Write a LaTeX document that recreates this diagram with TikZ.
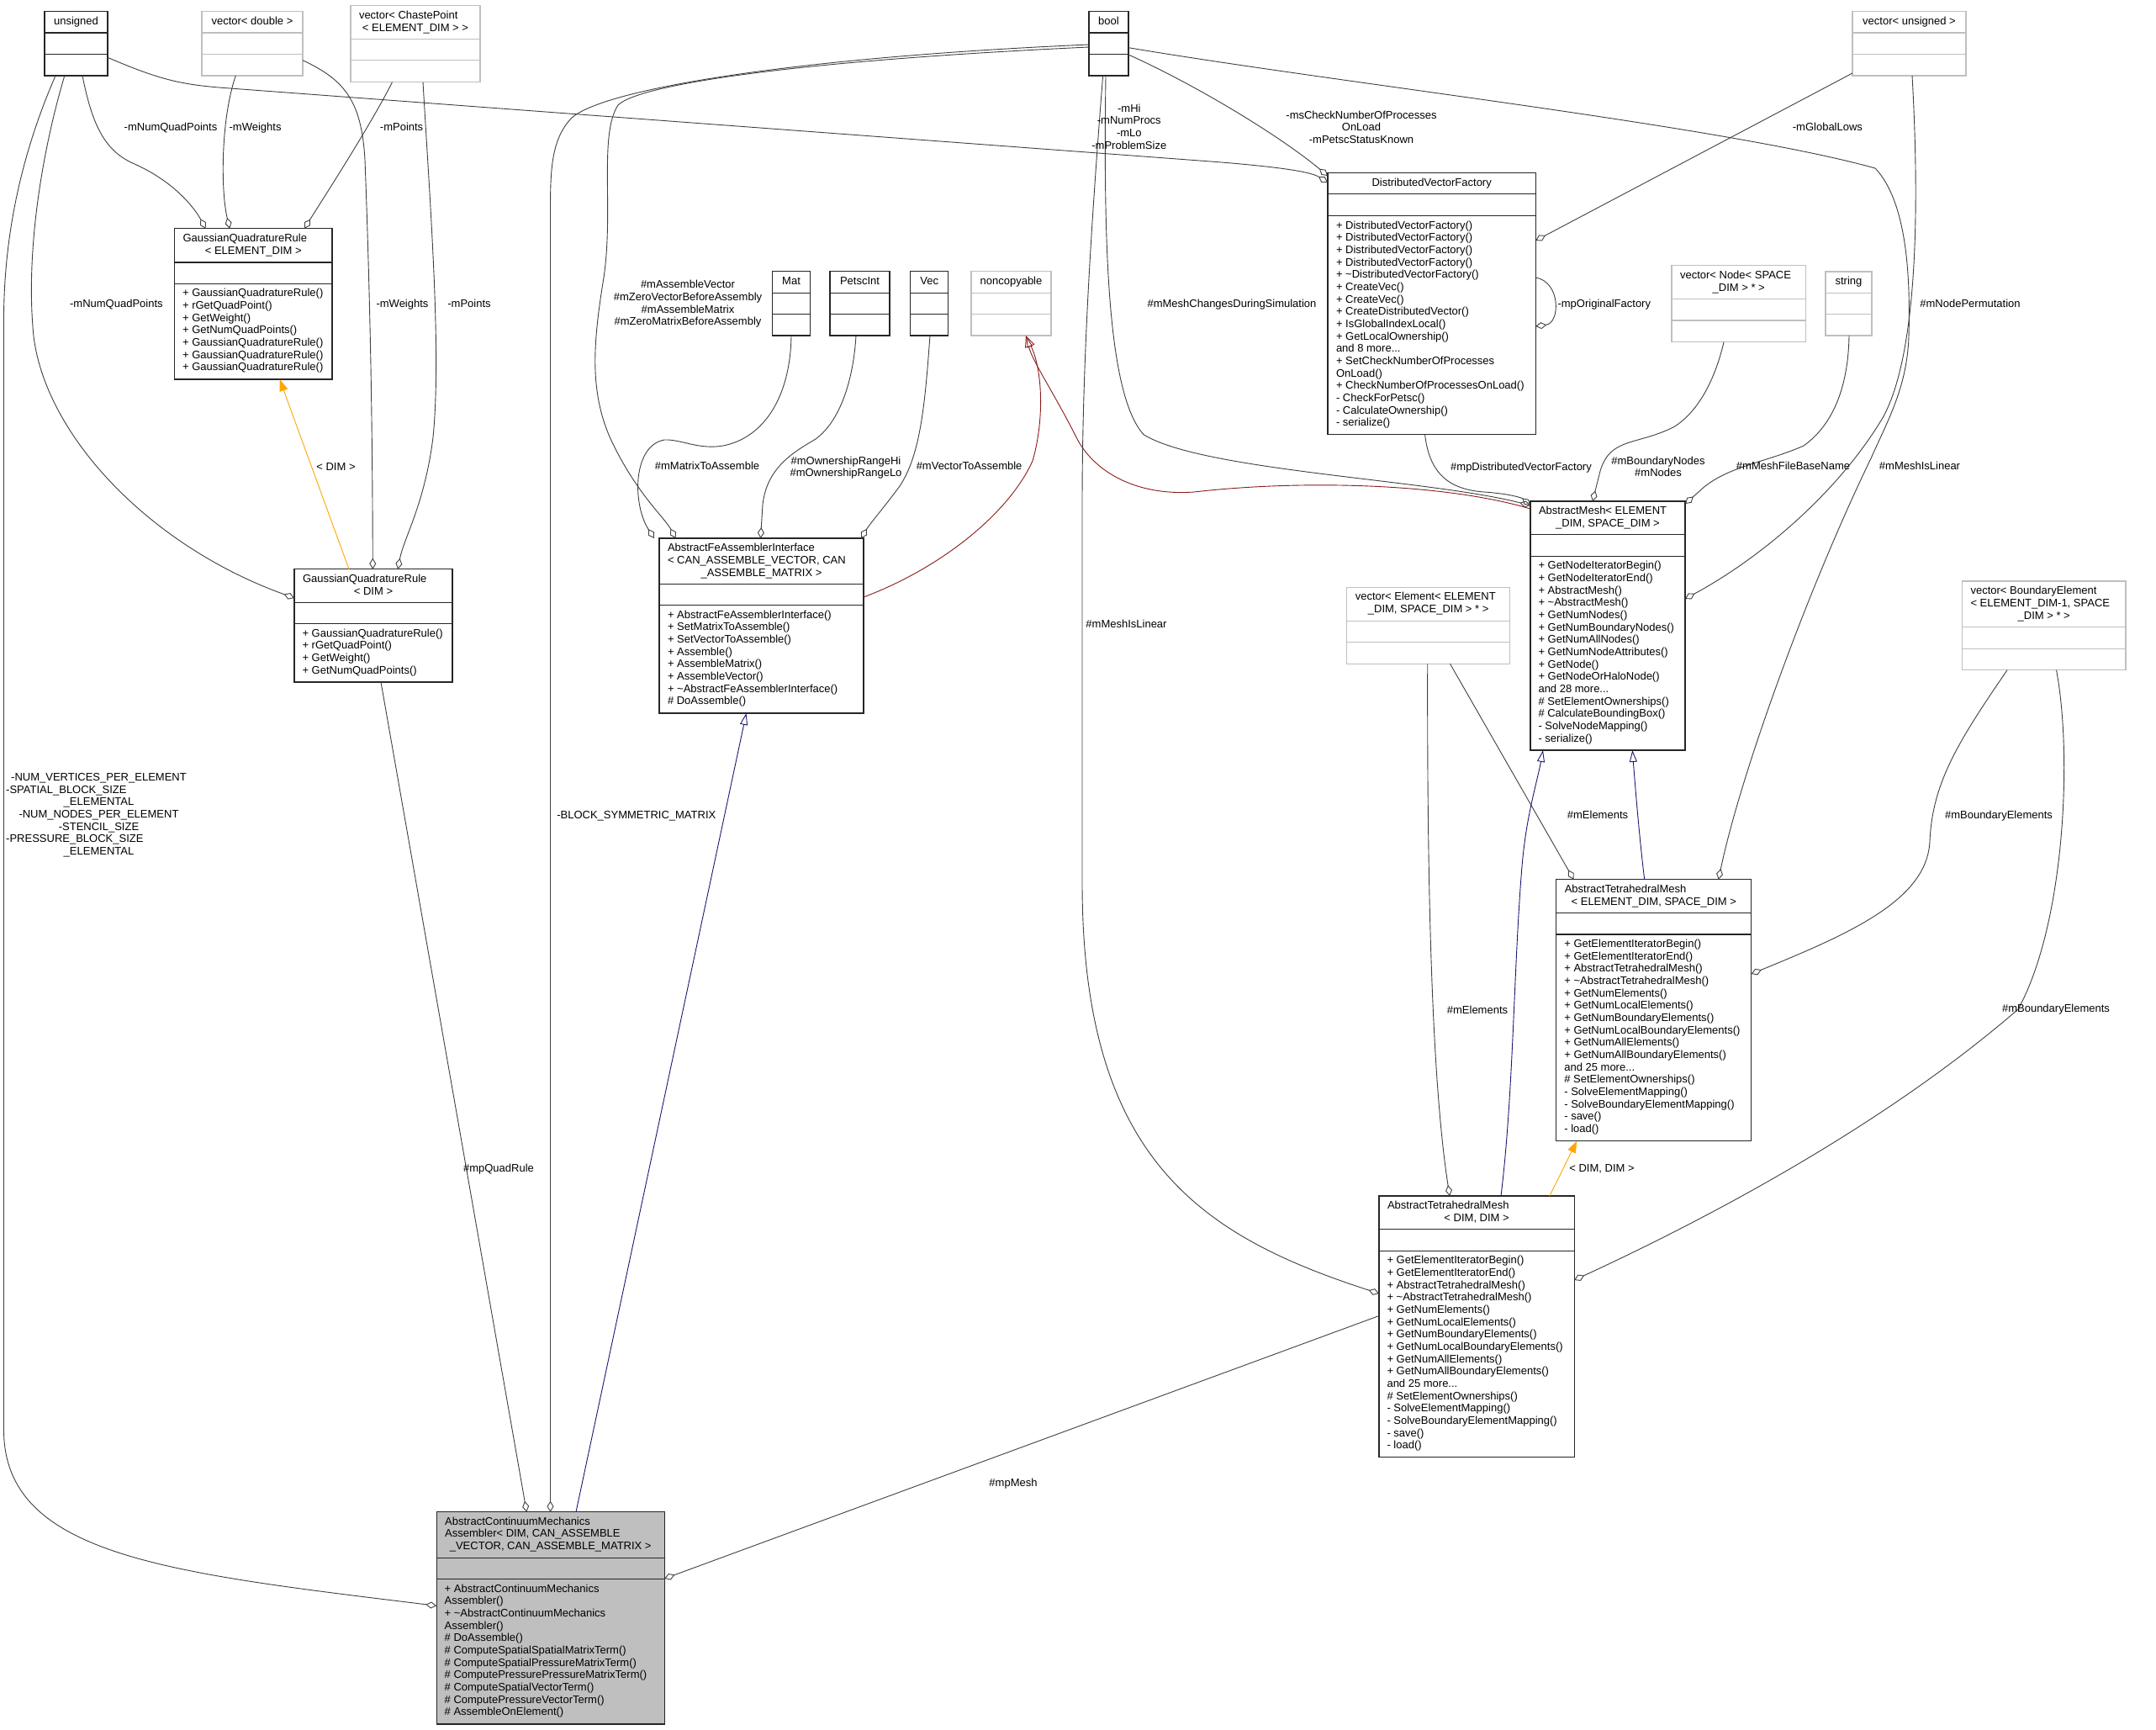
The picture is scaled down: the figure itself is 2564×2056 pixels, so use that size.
\documentclass[tikz,border=0pt]{standalone}
\usepackage{fontspec}
\setmainfont{Liberation Sans}
\usetikzlibrary{arrows.meta}
\definecolor{boxc}{HTML}{262626}
\definecolor{lgray}{HTML}{BFBFBF}
\definecolor{edgec}{HTML}{404040}
\definecolor{midnight}{HTML}{191970}
\definecolor{fire}{HTML}{8B1A1A}
\definecolor{orng}{HTML}{FFA500}
\newcommand{\mlines}[1]{\begin{tabular}[t]{@{}l@{}}#1\end{tabular}}
\newcommand{\clines}[1]{\begin{tabular}[t]{@{}c@{}}#1\end{tabular}}
\newcommand{\cdiv}[3]{\draw[#1] (#2.west |- 0,#3) -- (#2.east |- 0,#3);}
\tikzset{
  box/.style={draw=boxc, line width=1.2pt, fill=white, inner sep=0pt, outer sep=0pt, anchor=north west},
  gbox/.style={box, draw=lgray},
  dl/.style={draw=boxc, line width=1.2pt},
  gdl/.style={draw=lgray, line width=1.2pt},
  txt/.style={inner sep=0pt, outer sep=0pt, font=\fontsize{13}{14.67}\selectfont, text=black},
  agg/.style={draw=edgec, line width=0.9pt, -{Diamond[open, length=13pt, width=8pt]}},
  inh/.style={draw=midnight, line width=0.9pt, -{Triangle[open, length=14pt, width=9pt]}},
  pinh/.style={draw=fire, line width=0.9pt, -{Triangle[open, length=14pt, width=9pt]}},
  tmpl/.style={draw=orng, line width=0.9pt, -{Triangle[length=14pt, width=10pt]}}
}
\begin{document}
\begin{tikzpicture}[x=1pt,y=-1pt]
\fill[white] (0,0) rectangle (2564,2056);
\useasboundingbox (0,0) rectangle (2564,2056);

% ---------------- boxes ----------------
\node[box, minimum width=75pt, minimum height=76.3pt] (uns) at (53,13.7) {};
\cdiv{dl}{uns}{39}\cdiv{dl}{uns}{64.3}
\node[txt, anchor=base] (uns-t) at (uns.north |- 0,29.3) {unsigned};

\node[gbox, minimum width=120pt, minimum height=76.3pt] (vdbl) at (240,13.7) {};
\cdiv{gdl}{vdbl}{39}\cdiv{gdl}{vdbl}{64.3}
\node[txt, anchor=base] (vdbl-t) at (vdbl.north |- 0,29.3) {vector< double >};

\node[gbox, minimum width=154pt, minimum height=91pt] (cpt) at (417,6.7) {};
\cdiv{gdl}{cpt}{46.7}\cdiv{gdl}{cpt}{71.7}
\node[txt, anchor=base west] (cpt-t) at (427,22.3) {vector< ChastePoint};
\node[txt, anchor=base] (cpt-t2) at (cpt.north |- 0,37) {< ELEMENT\_DIM > >};

\node[box, minimum width=187.4pt, minimum height=179.3pt] (gqre) at (207.6,271.7) {};
\cdiv{dl}{gqre}{312}\cdiv{dl}{gqre}{337.3}
\node[txt, anchor=base west] (gqre-t) at (217.6,287.3) {GaussianQuadratureRule};
\node[txt, anchor=base] (gqre-t2) at (gqre.north |- 0,302) {< ELEMENT\_DIM >};
\node[txt, anchor=base west] (gqre-m) at (217.1,352.8) {\mlines{+ GaussianQuadratureRule()\\+ rGetQuadPoint()\\+ GetWeight()\\+ GetNumQuadPoints()\\+ GaussianQuadratureRule()\\+ GaussianQuadratureRule()\\+ GaussianQuadratureRule()}};

\node[box, minimum width=188pt, minimum height=134.3pt] (gqrd) at (350,676.7) {};
\cdiv{dl}{gqrd}{716.7}\cdiv{dl}{gqrd}{741.7}
\node[txt, anchor=base west] (gqrd-t) at (360,692.3) {GaussianQuadratureRule};
\node[txt, anchor=base] (gqrd-t2) at (gqrd.north |- 0,707) {< DIM >};
\node[txt, anchor=base west] (gqrd-m) at (359.5,757.2) {\mlines{+ GaussianQuadratureRule()\\+ rGetQuadPoint()\\+ GetWeight()\\+ GetNumQuadPoints()}};

\node[box, minimum width=47pt, minimum height=76.3pt] (boolc) at (1295,13.7) {};
\cdiv{dl}{boolc}{39}\cdiv{dl}{boolc}{64.3}
\node[txt, anchor=base] (boolc-t) at (boolc.north |- 0,29.3) {bool};

\node[box, minimum width=44.7pt, minimum height=76.3pt] (mat) at (918.7,322.7) {};
\cdiv{dl}{mat}{348.3}\cdiv{dl}{mat}{373.7}
\node[txt, anchor=base] (mat-t) at (mat.north |- 0,338.3) {Mat};

\node[box, minimum width=71pt, minimum height=76.3pt] (pint) at (987,322.7) {};
\cdiv{dl}{pint}{348.3}\cdiv{dl}{pint}{373.7}
\node[txt, anchor=base] (pint-t) at (pint.north |- 0,338.3) {PetscInt};

\node[box, minimum width=45.1pt, minimum height=76.3pt] (vec) at (1082.6,322.7) {};
\cdiv{dl}{vec}{348.3}\cdiv{dl}{vec}{373.7}
\node[txt, anchor=base] (vec-t) at (vec.north |- 0,338.3) {Vec};

\node[gbox, minimum width=95pt, minimum height=76.3pt] (noncp) at (1155,322.7) {};
\cdiv{gdl}{noncp}{348.3}\cdiv{gdl}{noncp}{373.7}
\node[txt, anchor=base] (noncp-t) at (noncp.north |- 0,338.3) {noncopyable};

\node[box, minimum width=243pt, minimum height=208pt] (afai) at (784,640) {};
\cdiv{dl}{afai}{694.3}\cdiv{dl}{afai}{719.7}
\node[txt, anchor=base west] (afai-t) at (794,655.6) {\mlines{AbstractFeAssemblerInterface\\< CAN\_ASSEMBLE\_VECTOR, CAN}};
\node[txt, anchor=base] (afai-t2) at (afai.north |- 0,685) {\_ASSEMBLE\_MATRIX >};
\node[txt, anchor=base west] (afai-m) at (794,735.2) {\mlines{+ AbstractFeAssemblerInterface()\\+ SetMatrixToAssemble()\\+ SetVectorToAssemble()\\+ Assemble()\\+ AssembleMatrix()\\+ AssembleVector()\\+ \textasciitilde AbstractFeAssemblerInterface()\\\# DoAssemble()}};

\node[box, minimum width=247.3pt, minimum height=311pt] (dvf) at (1579,205.7) {};
\cdiv{dl}{dvf}{230.7}\cdiv{dl}{dvf}{256.7}
\node[txt, anchor=base] (dvf-t) at (dvf.north |- 0,221.3) {DistributedVectorFactory};
\node[txt, anchor=base west] (dvf-m) at (1589,272.2) {\mlines{+ DistributedVectorFactory()\\+ DistributedVectorFactory()\\+ DistributedVectorFactory()\\+ DistributedVectorFactory()\\+ \textasciitilde DistributedVectorFactory()\\+ CreateVec()\\+ CreateVec()\\+ CreateDistributedVector()\\+ IsGlobalIndexLocal()\\+ GetLocalOwnership()\\and 8 more...\\+ SetCheckNumberOfProcesses\\OnLoad()\\+ CheckNumberOfProcessesOnLoad()\\- CheckForPetsc()\\- CalculateOwnership()\\- serialize()}};

\node[gbox, minimum width=159.5pt, minimum height=91pt] (vnode) at (1988,315.7) {};
\cdiv{gdl}{vnode}{355.7}\cdiv{gdl}{vnode}{381}
\node[txt, anchor=base west] (vnode-t) at (1998,331.3) {vector< Node< SPACE};
\node[txt, anchor=base] (vnode-t2) at (vnode.north |- 0,346) {\_DIM > * >};

\node[gbox, minimum width=55pt, minimum height=76pt] (str) at (2171,323) {};
\cdiv{gdl}{str}{348.3}\cdiv{gdl}{str}{373.7}
\node[txt, anchor=base] (str-t) at (str.north |- 0,338.6) {string};

\node[gbox, minimum width=135pt, minimum height=76.3pt] (vuns) at (2203,13.7) {};
\cdiv{gdl}{vuns}{39}\cdiv{gdl}{vuns}{64.3}
\node[txt, anchor=base] (vuns-t) at (vuns.north |- 0,29.3) {vector< unsigned >};

\node[box, minimum width=184pt, minimum height=296pt] (amesh) at (1820,596) {};
\cdiv{dl}{amesh}{635.7}\cdiv{dl}{amesh}{661.3}
\node[txt, anchor=base west] (amesh-t) at (1830,611.6) {AbstractMesh< ELEMENT};
\node[txt, anchor=base] (amesh-t2) at (amesh.north |- 0,626.3) {\_DIM, SPACE\_DIM >};
\node[txt, anchor=base west] (amesh-m) at (1829.5,676.8) {\mlines{+ GetNodeIteratorBegin()\\+ GetNodeIteratorEnd()\\+ AbstractMesh()\\+ \textasciitilde AbstractMesh()\\+ GetNumNodes()\\+ GetNumBoundaryNodes()\\+ GetNumAllNodes()\\+ GetNumNodeAttributes()\\+ GetNode()\\+ GetNodeOrHaloNode()\\and 28 more...\\\# SetElementOwnerships()\\\# CalculateBoundingBox()\\- SolveNodeMapping()\\- serialize()}};

\node[gbox, minimum width=193.7pt, minimum height=91pt] (velem) at (1601.8,698.3) {};
\cdiv{gdl}{velem}{738.3}\cdiv{gdl}{velem}{763.7}
\node[txt, anchor=base west] (velem-t) at (1611.8,713.9) {vector< Element< ELEMENT};
\node[txt, anchor=base] (velem-t2) at (velem.north |- 0,728.6) {\_DIM, SPACE\_DIM > * >};

\node[gbox, minimum width=194.5pt, minimum height=105.7pt] (vbel) at (2333.5,691) {};
\cdiv{gdl}{vbel}{745.7}\cdiv{gdl}{vbel}{771.3}
\node[txt, anchor=base west] (vbel-t) at (2343.5,706.6) {\mlines{vector< BoundaryElement\\< ELEMENT\_DIM-1, SPACE}};
\node[txt, anchor=base] (vbel-t2) at (vbel.north |- 0,736) {\_DIM > * >};

\node[box, minimum width=231.9pt, minimum height=311pt] (atmes) at (1850.8,1045.7) {};
\cdiv{dl}{atmes}{1085.7}\cdiv{dl}{atmes}{1111}
\node[txt, anchor=base west] (atmes-t) at (1860.8,1061.3) {AbstractTetrahedralMesh};
\node[txt, anchor=base] (atmes-t2) at (atmes.north |- 0,1076) {< ELEMENT\_DIM, SPACE\_DIM >};
\node[txt, anchor=base west] (atmes-m) at (1860.3,1126.5) {\mlines{+ GetElementIteratorBegin()\\+ GetElementIteratorEnd()\\+ AbstractTetrahedralMesh()\\+ \textasciitilde AbstractTetrahedralMesh()\\+ GetNumElements()\\+ GetNumLocalElements()\\+ GetNumBoundaryElements()\\+ GetNumLocalBoundaryElements()\\+ GetNumAllElements()\\+ GetNumAllBoundaryElements()\\and 25 more...\\\# SetElementOwnerships()\\- SolveElementMapping()\\- SolveBoundaryElementMapping()\\- save()\\- load()}};

\node[box, minimum width=232.2pt, minimum height=310.3pt] (atmdd) at (1640,1422) {};
\cdiv{dl}{atmdd}{1461.7}\cdiv{dl}{atmdd}{1487.3}
\node[txt, anchor=base west] (atmdd-t) at (1650,1437.6) {AbstractTetrahedralMesh};
\node[txt, anchor=base] (atmdd-t2) at (atmdd.north |- 0,1452.3) {< DIM, DIM >};
\node[txt, anchor=base west] (atmdd-m) at (1649.5,1502.8) {\mlines{+ GetElementIteratorBegin()\\+ GetElementIteratorEnd()\\+ AbstractTetrahedralMesh()\\+ \textasciitilde AbstractTetrahedralMesh()\\+ GetNumElements()\\+ GetNumLocalElements()\\+ GetNumBoundaryElements()\\+ GetNumLocalBoundaryElements()\\+ GetNumAllElements()\\+ GetNumAllBoundaryElements()\\and 25 more...\\\# SetElementOwnerships()\\- SolveElementMapping()\\- SolveBoundaryElementMapping()\\- save()\\- load()}};

\node[box, fill=lgray, minimum width=271pt, minimum height=252.3pt] (acma) at (519.2,1797.7) {};
\cdiv{dl}{acma}{1852.3}\cdiv{dl}{acma}{1877.7}
\node[txt, anchor=base west] (acma-t) at (529.2,1813.3) {\mlines{AbstractContinuumMechanics\\Assembler< DIM, CAN\_ASSEMBLE}};
\node[txt, anchor=base] (acma-t2) at (acma.north |- 0,1842.7) {\_VECTOR, CAN\_ASSEMBLE\_MATRIX >};
\node[txt, anchor=base west] (acma-m) at (528.7,1893.2) {\mlines{+ AbstractContinuumMechanics\\Assembler()\\+ \textasciitilde AbstractContinuumMechanics\\Assembler()\\\# DoAssemble()\\\# ComputeSpatialSpatialMatrixTerm()\\\# ComputeSpatialPressureMatrixTerm()\\\# ComputePressurePressureMatrixTerm()\\\# ComputeSpatialVectorTerm()\\\# ComputePressureVectorTerm()\\\# AssembleOnElement()}};

% ---------------- connectors ----------------
\draw[agg] (uns.south -| 98,0) .. controls (110,150) and (125,180) .. (160,195) .. controls (205,215) and (230,245) .. (gqre.north -| 244.6,0);
\draw[agg] (vdbl.south -| 280.3,0) .. controls (263,140) and (262,225) .. (gqre.north -| 273.2,0);
\draw[agg] (cpt.south -| 466.5,0) .. controls (440,150) and (385,235) .. (gqre.north -| 362,0);
\draw[agg] (uns.south -| 76.8,0) .. controls (50,180) and (30,300) .. (40,400) .. controls (55,520) and (180,650) .. (gqrd.west |- 0,711);
\draw[agg] (vdbl.east |- 0,71.7) .. controls (410,95) and (430,120) .. (434,190) .. controls (442,400) and (443,560) .. (gqrd.north -| 443.3,0);
\draw[agg] (cpt.south -| 503,0) .. controls (512,250) and (525,420) .. (515,520) .. controls (505,600) and (480,640) .. (gqrd.north -| 473.2,0);
\draw[tmpl] (gqrd.north -| 415,0) -- (gqre.south -| 332.6,0);
\draw[agg] (uns.south -| 66,0) .. controls (40,150) and (4.5,250) .. (4.5,380) -- (4.5,1700) .. controls (4.5,1850) and (200,1870) .. (acma.west |- 0,1909.3);
\draw[agg] (uns.east |- 0,68.3) .. controls (190,95) and (215,100) .. (260,104) -- (1440,192) .. controls (1530,199) and (1560,205) .. (dvf.west |- 0,217);
\draw[agg] (boolc.east |- 0,65) .. controls (1420,100) and (1520,160) .. (dvf.west |- 0,209);
\draw[agg] (vuns.west |- 0,87) -- (dvf.east |- 0,286);
\draw[agg] (dvf.east |- 0,330) .. controls (1856,335) and (1856,384) .. (dvf.east |- 0,388);
\draw[agg] (dvf.south -| 1694.6,0) .. controls (1700,565) and (1725,582) .. (1765,585) .. controls (1795,587) and (1810,592) .. (amesh.west |- 0,601);
\draw[agg] (boolc.south -| 1315,0) .. controls (1312,300) and (1318,470) .. (1360,516.7) .. controls (1430,560) and (1700,570) .. (amesh.west |- 0,601);
\draw[pinh] (amesh.west |- 0,605) .. controls (1720,575) and (1550,570) .. (1420,585) .. controls (1350,590) and (1300,560) .. (1280,520) .. controls (1255,470) and (1228,430) .. (noncp.south -| 1220,0);
\draw[pinh] (afai.east |- 0,710) .. controls (1120,675) and (1200,610) .. (1228,548) .. controls (1242,500) and (1240,440) .. (noncp.south -| 1220,0);
\draw[agg] (boolc.west |- 0,53) .. controls (950,68) and (720,105) .. (680,140) .. controls (656,165) and (654.5,200) .. (654.5,250) -- (acma.north -| 654.5,0);
\draw[agg] (boolc.west |- 0,56) .. controls (950,72) and (760,100) .. (735,125) .. controls (712,160) and (730,250) .. (718,330) .. controls (705,410) and (700,470) .. (730,530) .. controls (760,590) and (790,615) .. (afai.north -| 803.6,0);
\draw[agg] (mat.south -| 941,0) .. controls (940,470) and (910,520) .. (860,530) .. controls (830,535) and (810,522) .. (790,523) .. controls (752,530) and (752,600) .. (afai.north -| 778,0);
\draw[agg] (pint.south -| 1018,0) .. controls (1015,450) and (1000,500) .. (970,522) .. controls (945,537) and (912,555) .. (907,600) -- (afai.north -| 904.5,0);
\draw[agg] (vec.south -| 1106,0) .. controls (1100,480) and (1095,540) .. (1070,578) .. controls (1050,605) and (1035,622) .. (afai.north -| 1024,0);
\draw[inh] (acma.north -| 685,0) -- (afai.south -| 887.5,0);
\draw[agg] (gqrd.south -| 453,0) -- (acma.north -| 626.3,0);
\draw[agg] (atmdd.west |- 0,1564.5) -- (acma.east |- 0,1877);
\draw[agg] (boolc.south -| 1311.6,0) .. controls (1295,300) and (1287,450) .. (1287,600) -- (1287,1050) .. controls (1287,1380) and (1430,1470) .. (atmdd.west |- 0,1538);
\draw[agg] (boolc.east |- 0,56.7) .. controls (1600,100) and (2050,150) .. (2230,200) .. controls (2268,240) and (2272,330) .. (2270,400) .. controls (2268,460) and (2245,500) .. (2225,545) .. controls (2150,700) and (2070,920) .. (atmes.north -| 2043.7,0);
\draw[agg] (vuns.south -| 2274,0) .. controls (2283,250) and (2280,420) .. (2240,495) .. controls (2190,580) and (2100,660) .. (amesh.east |- 0,712);
\draw[agg] (vnode.south -| 2050,0) .. controls (2040,450) and (2020,490) .. (1990,508) .. controls (1945,530) and (1915,520) .. (1903,560) -- (amesh.north -| 1894,0);
\draw[agg] (str.south -| 2199,0) .. controls (2198,460) and (2180,505) .. (2145,530) .. controls (2100,550) and (2050,555) .. (2020,585) -- (amesh.east |- 0,599);
\draw[agg] (velem.south -| 1724.5,0) -- (atmes.north -| 1871.5,0);
\draw[agg] (velem.south -| 1697.7,0) .. controls (1697,1100) and (1705,1300) .. (atmdd.north -| 1724,0);
\draw[agg] (vbel.south -| 2387,0) .. controls (2330,880) and (2298,930) .. (2295,1000) .. controls (2292,1070) and (2200,1110) .. (atmes.east |- 0,1158);
\draw[agg] (vbel.south -| 2445.5,0) .. controls (2465,900) and (2455,1100) .. (2400,1200) .. controls (2250,1330) and (2050,1440) .. (atmdd.east |- 0,1522);
\draw[inh] (atmes.north -| 1955.7,0) .. controls (1950,1000) and (1945,940) .. (amesh.south -| 1941.3,0);
\draw[inh] (atmdd.north -| 1785,0) .. controls (1800,1300) and (1800,1150) .. (1810,1030) .. controls (1815,970) and (1828,930) .. (amesh.south -| 1835,0);
\draw[tmpl] (atmdd.north -| 1842.8,0) -- (atmes.south -| 1875.3,0);

% ---------------- labels ----------------
\node[txt, anchor=base] (l1) at (203,155) {-mNumQuadPoints};
\node[txt, anchor=base] (l2) at (303.6,155) {-mWeights};
\node[txt, anchor=base] (l3) at (477.6,155) {-mPoints};
\node[txt, anchor=base] (l4) at (138.4,365) {-mNumQuadPoints};
\node[txt, anchor=base] (l5) at (478.5,365) {-mWeights};
\node[txt, anchor=base] (l6) at (558,365) {-mPoints};
\node[txt, anchor=base] (l7) at (399.5,559.5) {< DIM >};
\node[txt, anchor=base] (l8) at (117.5,928.5) {\clines{-NUM\_VERTICES\_PER\_ELEMENT\\\multicolumn{1}{@{}l@{}}{\hspace*{-6pt}-SPATIAL\_BLOCK\_SIZE}\\\_ELEMENTAL\\-NUM\_NODES\_PER\_ELEMENT\\-STENCIL\_SIZE\\\multicolumn{1}{@{}l@{}}{\hspace*{-6pt}-PRESSURE\_BLOCK\_SIZE}\\\_ELEMENTAL}};
\node[txt, anchor=base] (l9) at (756.8,973) {-BLOCK\_SYMMETRIC\_MATRIX};
\node[txt, anchor=base] (l10) at (593,1393.5) {\#mpQuadRule};
\node[txt, anchor=base] (l11) at (818,342.8) {\clines{\#mAssembleVector\\\#mZeroVectorBeforeAssembly\\\#mAssembleMatrix\\\#mZeroMatrixBeforeAssembly}};
\node[txt, anchor=base] (l12) at (841,558.5) {\#mMatrixToAssemble};
\node[txt, anchor=base] (l13) at (1006,552.2) {\clines{\#mOwnershipRangeHi\\\#mOwnershipRangeLo}};
\node[txt, anchor=base] (l14) at (1152.6,558.5) {\#mVectorToAssemble};
\node[txt, anchor=base] (l15) at (1342.8,133) {\clines{-mHi\\-mNumProcs\\-mLo\\-mProblemSize}};
\node[txt, anchor=base] (l16) at (1619,141.2) {\clines{-msCheckNumberOfProcesses\\OnLoad\\-mPetscStatusKnown}};
\node[txt, anchor=base] (l17) at (2173.4,155.2) {-mGlobalLows};
\node[txt, anchor=base] (l18) at (1907.8,365.2) {-mpOriginalFactory};
\node[txt, anchor=base] (l19) at (1465,365.2) {\#mMeshChangesDuringSimulation};
\node[txt, anchor=base] (l20) at (1809,559.5) {\#mpDistributedVectorFactory};
\node[txt, anchor=base] (l21) at (1972,552.2) {\clines{\#mBoundaryNodes\\\#mNodes}};
\node[txt, anchor=base] (l22) at (2132.5,558.5) {\#mMeshFileBaseName};
\node[txt, anchor=base] (l23) at (2283,558.5) {\#mMeshIsLinear};
\node[txt, anchor=base] (l24) at (2343,365.2) {\#mNodePermutation};
\node[txt, anchor=base] (l25) at (1339.5,746.5) {\#mMeshIsLinear};
\node[txt, anchor=base] (l26) at (1900,973.5) {\#mElements};
\node[txt, anchor=base] (l27) at (1757,1205) {\#mElements};
\node[txt, anchor=base] (l28) at (2377,973.5) {\#mBoundaryElements};
\node[txt, anchor=base] (l29) at (2445,1203) {\#mBoundaryElements};
\node[txt, anchor=base] (l30) at (1905,1393) {< DIM, DIM >};
\node[txt, anchor=base] (l31) at (1205,1767) {\#mpMesh};
\end{tikzpicture}
\end{document}
